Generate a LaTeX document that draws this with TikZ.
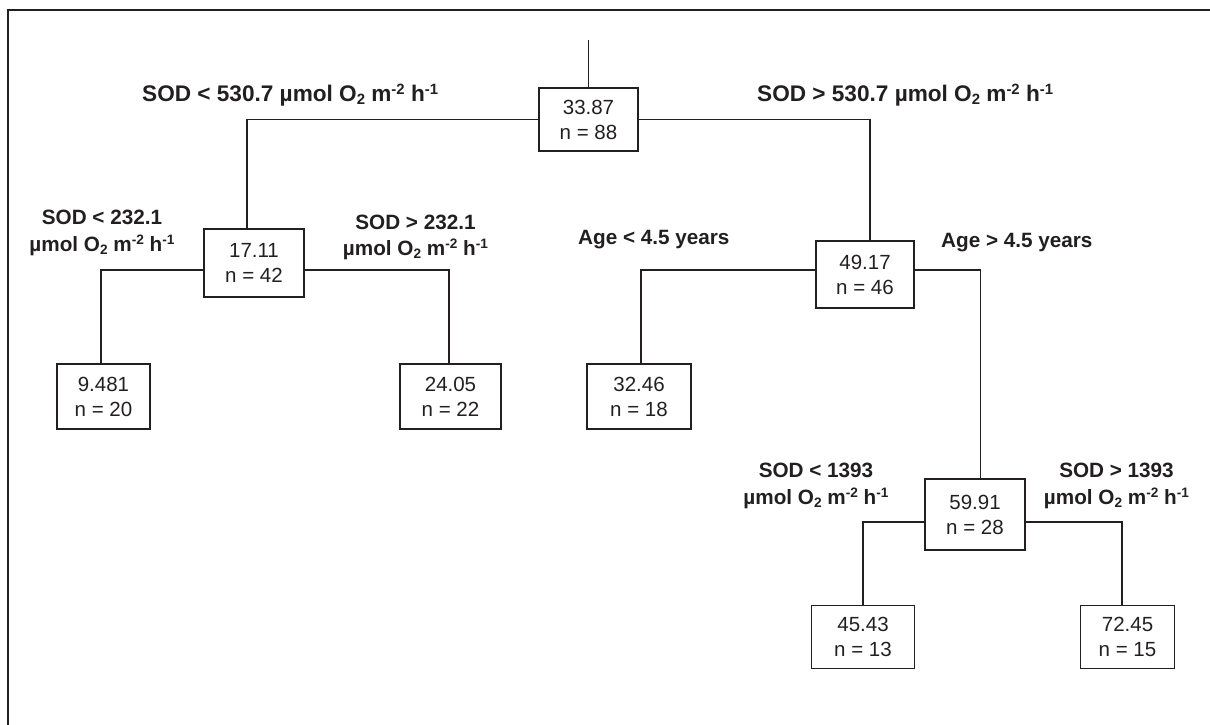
\documentclass[tikz,border=0pt]{standalone}
\usepackage{fontspec}
\setmainfont{Liberation Sans}
\usetikzlibrary{calc}
\definecolor{ink}{RGB}{35,31,32}
\newcommand{\supx}[1]{\raisebox{0.62ex}{\scalebox{0.66}{#1}}}
\newcommand{\subx}[1]{\raisebox{-0.28ex}{\scalebox{0.66}{#1}}}
\newcommand{\unitx}{µmol O\subx{2} m\supx{-2} h\supx{-1}}
\begin{document}
\begin{tikzpicture}[x=1pt,y=-1pt,
  box/.style={draw=ink, line width=1.8pt, inner sep=0pt, align=center, text=ink,
    font=\fontsize{20.5}{25}\selectfont},
  conn/.style={draw=ink, line width=1.2pt},
  lab/.style={text=ink, align=center, inner sep=0pt,
    font=\fontsize{20.7}{26.5}\selectfont\bfseries},
  sidelab/.style={text=ink, inner sep=0pt, anchor=base west,
    font=\fontsize{20.7}{26.5}\selectfont\bfseries},
  toplab/.style={text=ink, inner sep=0pt, anchor=base west,
    font=\fontsize{22.6}{27}\selectfont\bfseries}]
\useasboundingbox (0,0) rectangle (1210,725);
% frame
\coordinate (fA) at (8,725);
\coordinate (fB) at (8,10);
\coordinate (fC) at (1210,10);
\draw[ink, line width=2.6pt] (fA) -- (fB) -- (fC);

% boxes
\node[box, minimum width=99pt,  minimum height=63pt] (root) at (588.5,119.5) {33.87\\n = 88};
\node[box, minimum width=100pt, minimum height=68pt] (n17)  at (254,263)    {17.11\\n = 42};
\node[box, minimum width=93pt,  minimum height=65pt] (n9)   at (103.5,396.5) {9.481\\n = 20};
\node[box, minimum width=101pt, minimum height=65pt] (n24)  at (450.5,396.5) {24.05\\n = 22};
\node[box, minimum width=104pt, minimum height=65pt] (n32)  at (639,396.5)  {32.46\\n = 18};
\node[box, minimum width=98pt,  minimum height=67pt] (n49)  at (865,274.5)  {49.17\\n = 46};
\node[box, minimum width=100pt, minimum height=71pt] (n59)  at (975,514.5)  {59.91\\n = 28};
\node[box, minimum width=103pt, minimum height=63pt] (n45)  at (863,637)    {45.43\\n = 13};
\node[box, minimum width=94pt,  minimum height=63pt] (n72)  at (1127.5,637) {72.45\\n = 15};

% split points
\coordinate (top) at (588.5,40);
\coordinate (rL) at (247,119.5);
\coordinate (rR) at (870,119.5);
\coordinate (aL) at (101,270);
\coordinate (aR) at (449,270);
\coordinate (bL) at (641,270);
\coordinate (bR) at (980.5,270);
\coordinate (cL) at (863,522);
\coordinate (cR) at (1122,522);

% connectors
\draw[conn] (top) -- (root.north);
\draw[conn] (root.west) -- (rL) -- (rL |- n17.north);
\draw[conn] (root.east) -- (rR) -- (rR |- n49.north);
\draw[conn] (aL -| n17.west) -- (aL) -- (aL |- n9.north);
\draw[conn] (aR -| n17.east) -- (aR) -- (aR |- n24.north);
\draw[conn] (bL -| n49.west) -- (bL) -- (bL |- n32.north);
\draw[conn] (bR -| n49.east) -- (bR) -- (bR |- n59.north);
\draw[conn] (cL -| n59.west) -- (cL) -- (cL |- n45.north);
\draw[conn] (cR -| n59.east) -- (cR) -- (cR |- n72.north);

% labels
\node[toplab] (l1) at (142,101.5) {SOD < 530.7 \unitx};
\node[toplab] (l2) at (757,101.5) {SOD > 530.7 \unitx};
\node[lab] (l3) at (102,233) {SOD < 232.1\\\unitx};
\node[lab] (l4) at (415.5,237.3) {SOD > 232.1\\\unitx};
\node[sidelab] (l5) at (578,244) {Age < 4.5 years};
\node[sidelab] (l6) at (941,247) {Age > 4.5 years};
\node[lab] (l7) at (816,485.8) {SOD < 1393\\\unitx};
\node[lab] (l8) at (1116.5,485.8) {SOD > 1393\\\unitx};
\end{tikzpicture}
\end{document}
